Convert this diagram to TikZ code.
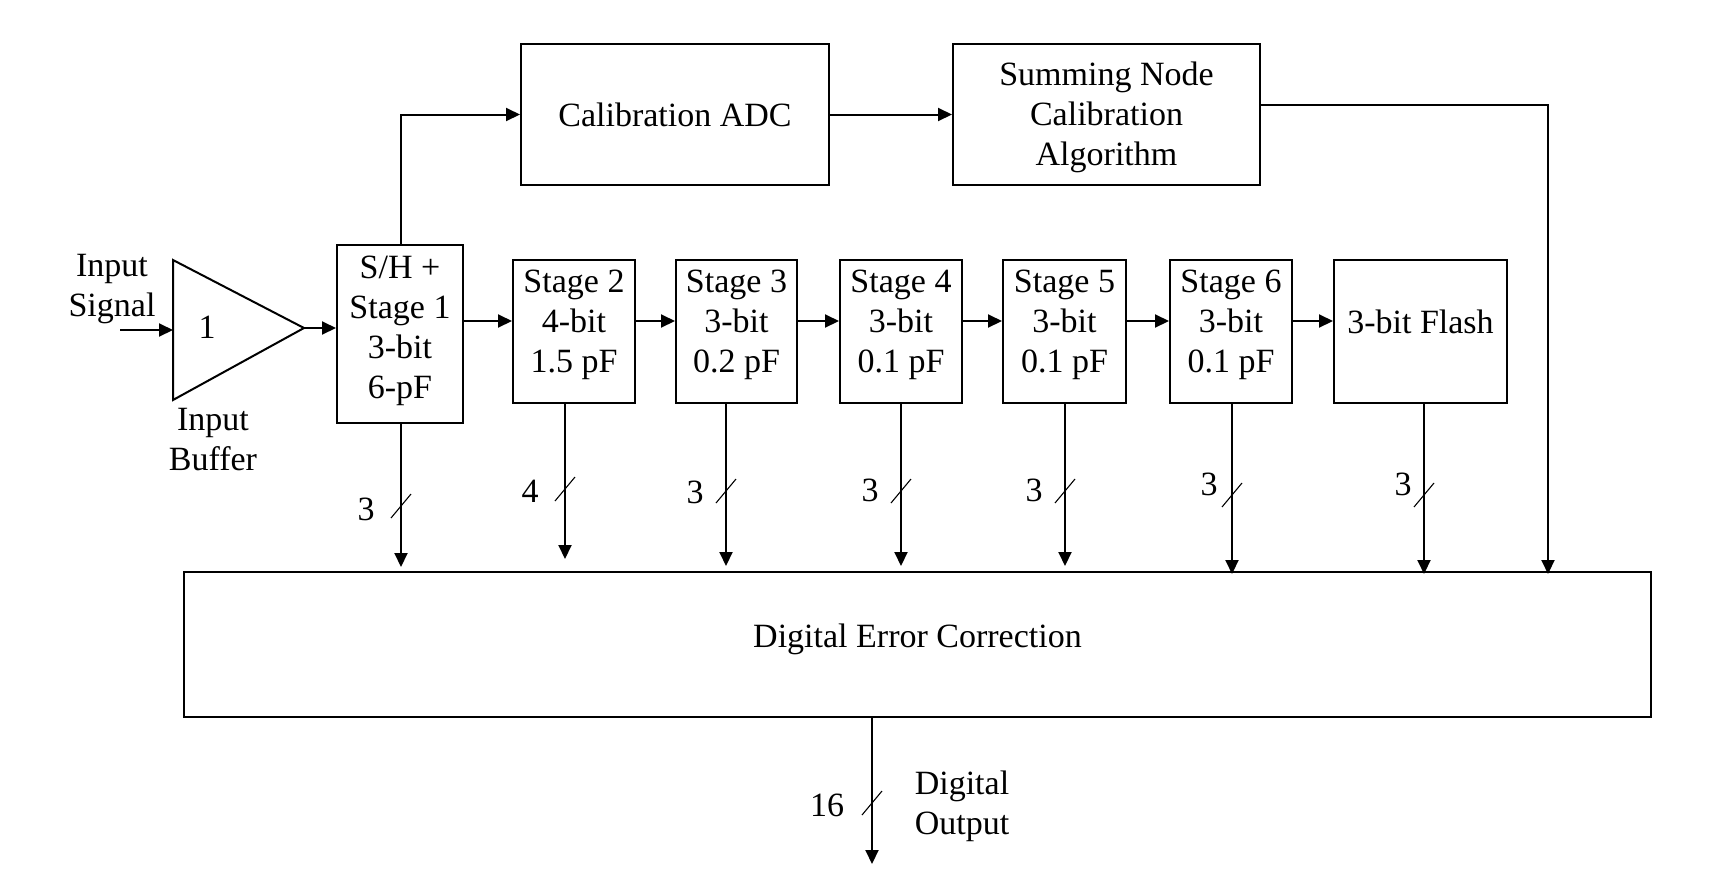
\documentclass[tikz,border=0pt]{standalone}
\usepackage{fontspec}
\setmainfont{Liberation Serif}
\usetikzlibrary{arrows.meta,calc}
\begin{document}
\begin{tikzpicture}[x=1pt,y=-1pt,
  every node/.style={font=\fontsize{34}{40}\selectfont},
  blk/.style={draw, line width=2pt, inner sep=0pt, align=center},
  stg/.style={blk, minimum width=122pt, minimum height=143pt},
  conn/.style={line width=2pt, -{Triangle[length=14pt,width=13pt]}},
  wire/.style={line width=2pt},
  slash/.style={line width=1.1pt},
  txt/.style={align=center, inner sep=0pt},
]
\useasboundingbox (0,0) rectangle (1714,895);

% input buffer
\coordinate (bufT) at (173,260);
\coordinate (bufB) at (173,400);
\coordinate (bufL) at (173,330);
\coordinate (bufO) at (304,328);
\coordinate (in) at (120,330);
\draw[wire, line join=miter] (bufT) -- (bufO) -- (bufB) -- cycle;
\node[txt] (gain) at (207,327) {1};
\node[txt] (insig) at (112,289) {Input\\Signal};
\node[txt] (inbuf) at (213,440) {Input\\Buffer};

% blocks
\node[blk, minimum width=126pt, minimum height=178pt] (sh) at (400,334) {S/H +\\Stage 1\\3-bit\\6-pF\\[-26pt]\mbox{}};
\node[stg] (s2) at (574,331.5) {Stage 2\\4-bit\\1.5 pF\\[-20pt]\mbox{}};
\node[stg, minimum width=121pt] (s3) at (736.5,331.5) {Stage 3\\3-bit\\0.2 pF\\[-20pt]\mbox{}};
\node[stg] (s4) at (901,331.5) {Stage 4\\3-bit\\0.1 pF\\[-20pt]\mbox{}};
\node[stg, minimum width=123pt] (s5) at (1064.5,331.5) {Stage 5\\3-bit\\0.1 pF\\[-20pt]\mbox{}};
\node[stg] (s6) at (1231,331.5) {Stage 6\\3-bit\\0.1 pF\\[-20pt]\mbox{}};
\node[stg, minimum width=173pt] (fl) at (1420.5,331.5) {3-bit Flash\\[-20pt]\mbox{}};
\node[blk, minimum width=308pt, minimum height=141pt] (cal) at (675,114.5) {Calibration ADC};
\node[blk, minimum width=307pt, minimum height=141pt] (sum) at (1106.5,114.5) {\rule{0pt}{29pt}Summing Node\\Calibration\\Algorithm};
\node[blk, minimum width=1467pt, minimum height=145pt] (dec) at (917.5,644.5) {Digital Error Correction\\[-22pt]\mbox{}};

% signal chain
\draw[conn] (in) -- (bufL);
\draw[conn] (bufO) -- (bufO -| sh.west);
\draw[conn] ([yshift=13pt]sh.east) -- ([yshift=13pt]sh.east -| s2.west);
\draw[conn] ([yshift=10.5pt]s2.east) -- ([yshift=10.5pt]s2.east -| s3.west);
\draw[conn] ([yshift=10.5pt]s3.east) -- ([yshift=10.5pt]s3.east -| s4.west);
\draw[conn] ([yshift=10.5pt]s4.east) -- ([yshift=10.5pt]s4.east -| s5.west);
\draw[conn] ([yshift=10.5pt]s5.east) -- ([yshift=10.5pt]s5.east -| s6.west);
\draw[conn] ([yshift=10.5pt]s6.east) -- ([yshift=10.5pt]s6.east -| fl.west);

% calibration path
\draw[conn] ([xshift=1pt]sh.north) |- (cal.west);
\draw[conn] (cal.east) -- (cal.east -| sum.west);
\coordinate (calx) at (1548,0);
\draw[conn] ([yshift=9.5pt]sum.east) -| ([yshift=-3pt]calx |- dec.north);

% outputs to DEC
\coordinate (xsh) at (401,0);
\coordinate (xs2) at (565,0);
\coordinate (xs3) at (726,0);
\coordinate (xs4) at (901,0);
\coordinate (xs5) at (1065,0);
\coordinate (xs6) at (1232,0);
\coordinate (xfl) at (1424,0);
\draw[conn] (xsh |- sh.south) -- ([yshift=4pt]xsh |- dec.north);
\draw[conn] (xs2 |- s2.south) -- ([yshift=12pt]xs2 |- dec.north);
\draw[conn] (xs3 |- s3.south) -- ([yshift=5pt]xs3 |- dec.north);
\draw[conn] (xs4 |- s4.south) -- ([yshift=5pt]xs4 |- dec.north);
\draw[conn] (xs5 |- s5.south) -- ([yshift=5pt]xs5 |- dec.north);
\draw[conn] (xs6 |- s6.south) -- ([yshift=-3pt]xs6 |- dec.north);
\draw[conn] (xfl |- fl.south) -- ([yshift=-3pt]xfl |- dec.north);

% bus slashes and widths
\foreach \x/\y in {401/506, 565/489, 726/491, 901/491, 1065/491, 1232/495, 1424/495}{
  \draw[slash] (\x-10,\y+12) -- (\x+10,\y-12);
}
\node[txt] (b1) at (366,509) {3};
\node[txt] (b2) at (530,491) {4};
\node[txt] (b3) at (695,492) {3};
\node[txt] (b4) at (870,490) {3};
\node[txt] (b5) at (1034,490) {3};
\node[txt] (b6) at (1209,484) {3};
\node[txt] (b7) at (1403,484) {3};

% digital output
\coordinate (xo) at (872,0);
\coordinate (out) at (872,864);
\draw[conn] (xo |- dec.south) -- (out);
\draw[slash] (862,815) -- (882,791);
\node[txt] (b16) at (827,805) {16};
\node[txt] (dout) at (962,806) {Digital\\Output};
\end{tikzpicture}
\end{document}
